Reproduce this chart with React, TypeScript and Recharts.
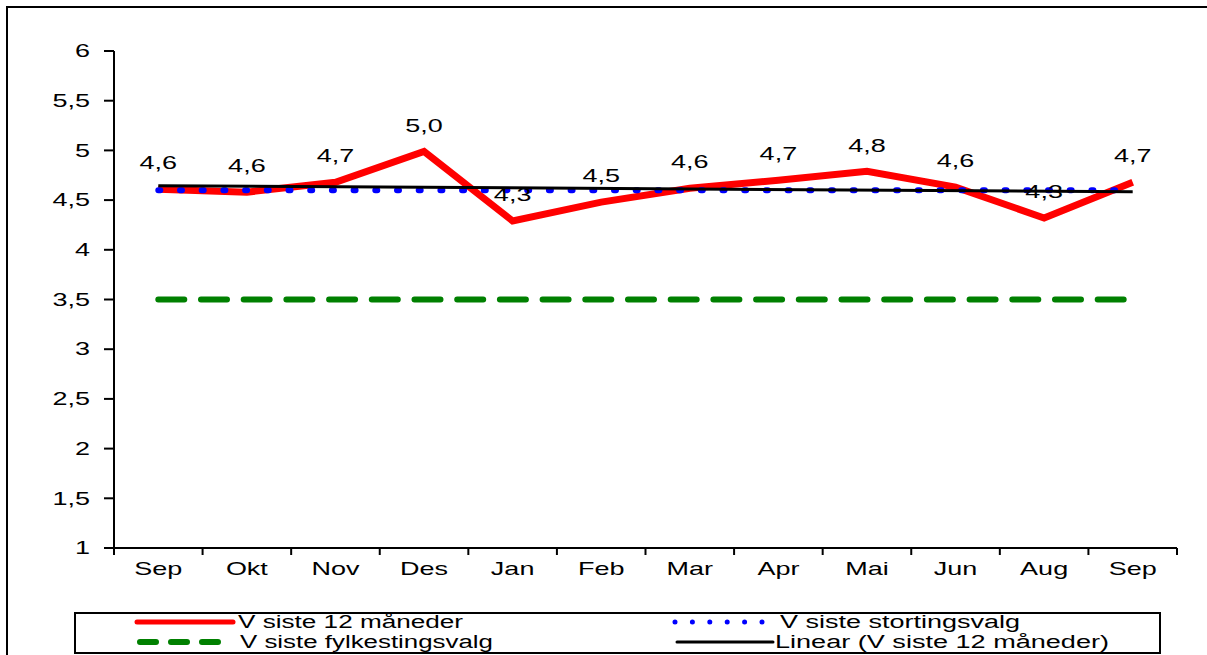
import React from "react";
import { LineChart, Line, XAxis, YAxis } from "recharts";

const months = ["Sep", "Okt", "Nov", "Des", "Jan", "Feb", "Mar", "Apr", "Mai", "Jun", "Aug", "Sep"];
const siste12 = [4.61, 4.58, 4.68, 4.99, 4.29, 4.48, 4.62, 4.7, 4.79, 4.63, 4.32, 4.68];
const stortingsvalg = [4.6, 4.6, 4.6, 4.6, 4.6, 4.6, 4.6, 4.6, 4.6, 4.6, 4.6, 4.6];
const fylkestingsvalg = [3.5, 3.5, 3.5, 3.5, 3.5, 3.5, 3.5, 3.5, 3.5, 3.5, 3.5, 3.5];
// trend line at its two ends
const linear = [4.645, null, null, null, null, null, null, null, null, null, null, 4.585];
const yTicks = [1, 1.5, 2, 2.5, 3, 3.5, 4, 4.5, 5, 5.5, 6];

const data = months.map((m, i) => ({
  month: m,
  siste12: siste12[i],
  storting: stortingsvalg[i],
  fylke: fylkestingsvalg[i],
  linear: linear[i],
}));

if (typeof document !== "undefined") {
  document.body.style.margin = "0";
}

const FONT = "'Liberation Sans', Arial, sans-serif";
const PLOT_W = 1063;
const BAND = PLOT_W / months.length;
const STRETCH = 1.5;

const fmt = (v: number, digits = 1) => v.toFixed(digits).replace(".", ",");

const YTick = (props: any) => {
  const { x, y, payload } = props;
  const v = payload.value;
  const label = Number.isInteger(v) ? String(v) : fmt(v);
  return (
    <g transform={`translate(${x},${y}) scale(${STRETCH},1)`}>
      <text x={0} y={0} textAnchor="end" dominantBaseline="central" fontSize={18} fontFamily={FONT} fill="#000">
        {label}
      </text>
    </g>
  );
};

const XTick = (props: any) => {
  const { x, y, payload, index } = props;
  const left = x - BAND / 2;
  return (
    <g>
      <line x1={left} x2={left} y1={y} y2={y + 7} stroke="#000" strokeWidth={2} />
      {index === months.length - 1 && (
        <line x1={x + BAND / 2} x2={x + BAND / 2} y1={y} y2={y + 7} stroke="#000" strokeWidth={2} />
      )}
      <g transform={`translate(${x},${y + 21}) scale(${STRETCH},1)`}>
        <text x={0} y={0} textAnchor="middle" dominantBaseline="central" fontSize={18} fontFamily={FONT} fill="#000">
          {payload.value}
        </text>
      </g>
    </g>
  );
};

const PointLabel = (props: any) => {
  const { x, y, value } = props;
  if (value == null) return null;
  return (
    <g transform={`translate(${x},${y - 26}) scale(${STRETCH},1)`}>
      <text x={0} y={0} textAnchor="middle" dominantBaseline="central" fontSize={18} fontFamily={FONT} fill="#000">
        {fmt(value)}
      </text>
    </g>
  );
};

const legendItems = [
  { name: "V siste 12 måneder", color: "#ff0000", width: 5, dash: undefined, x1: 137, x2: 233, tx: 238, tw: 225, y: 622 },
  { name: "V siste stortingsvalg", color: "#0000ff", width: 5, dash: "0 17.4", x1: 675, x2: 763, tx: 780, tw: 240, y: 622 },
  { name: "V siste fylkestingsvalg", color: "#008000", width: 6, dash: "16 15", x1: 140, x2: 220, tx: 240, tw: 253, y: 642 },
  { name: "Linear (V siste 12 måneder)", color: "#000000", width: 3, dash: undefined, x1: 677, x2: 773, tx: 775, tw: 334, y: 642 },
];

const Overlay = () => (
  <svg width={1207} height={655} style={{ position: "absolute", left: 0, top: 0, pointerEvents: "none" }}>
    <polyline points="7,655 7,7 1207,7" fill="none" stroke="#000" strokeWidth={2} />
    <rect x={75} y={613} width={1085} height={40} fill="#fff" stroke="#000" strokeWidth={2} />
    {legendItems.map((it) => (
      <g key={it.name}>
        <line
          x1={it.x1}
          x2={it.x2}
          y1={it.y}
          y2={it.y}
          stroke={it.color}
          strokeWidth={it.width}
          strokeDasharray={it.dash}
          strokeLinecap="round"
        />
        <text
          x={it.tx}
          y={it.y}
          dominantBaseline="central"
          fontSize={18}
          fontFamily={FONT}
          fill="#000"
          textLength={it.tw}
          lengthAdjust="spacingAndGlyphs"
        >
          {it.name}
        </text>
      </g>
    ))}
  </svg>
);

export default function App() {
  return (
    <div style={{ position: "relative", width: 1207, height: 655, overflow: "hidden", background: "#fff" }}>
      <div style={{ position: "absolute", left: 0, top: 0 }}>
        <LineChart
          width={1207}
          height={600}
          data={data}
          margin={{ top: 51, right: 30, left: 54, bottom: 12 }}
        >
          <XAxis
            xAxisId="top"
            orientation="top"
            dataKey="month"
            height={0}
            padding={{ left: BAND / 2, right: BAND / 2 }}
            tick={false}
            tickLine={false}
            axisLine={{ stroke: "#888", strokeWidth: 2 }}
          />
          <YAxis
            yAxisId="frame"
            orientation="right"
            width={0}
            domain={[1, 6]}
            tick={false}
            tickLine={false}
            axisLine={{ stroke: "#888", strokeWidth: 2 }}
          />
          <XAxis
            dataKey="month"
            height={40}
            interval={0}
            padding={{ left: BAND / 2, right: BAND / 2 }}
            tickSize={0}
            tickMargin={0}
            tickLine={false}
            axisLine={{ stroke: "#000", strokeWidth: 2 }}
            tick={<XTick />}
          />
          <YAxis
            width={60}
            domain={[1, 6]}
            ticks={yTicks}
            interval={0}
            tickSize={10}
            tickMargin={14}
            tickLine={{ stroke: "#000", strokeWidth: 2 }}
            axisLine={{ stroke: "#000", strokeWidth: 2 }}
            tick={<YTick />}
          />
          <Line
            dataKey="siste12"
            stroke="#ff0000"
            strokeWidth={7}
            strokeLinejoin="miter"
            dot={false}
            label={<PointLabel />}
            isAnimationActive={false}
          />
          <Line
            dataKey="fylke"
            stroke="#008000"
            strokeWidth={6}
            strokeDasharray="26 16.7"
            strokeLinecap="round"
            dot={false}
            isAnimationActive={false}
          />
          <Line
            dataKey="storting"
            stroke="#0000ff"
            strokeWidth={6}
            strokeDasharray="2 19.7"
            strokeLinecap="round"
            dot={false}
            isAnimationActive={false}
          />
          <Line
            dataKey="linear"
            stroke="#000"
            strokeWidth={3}
            connectNulls
            dot={false}
            isAnimationActive={false}
          />
        </LineChart>
      </div>
      <Overlay />
    </div>
  );
}
